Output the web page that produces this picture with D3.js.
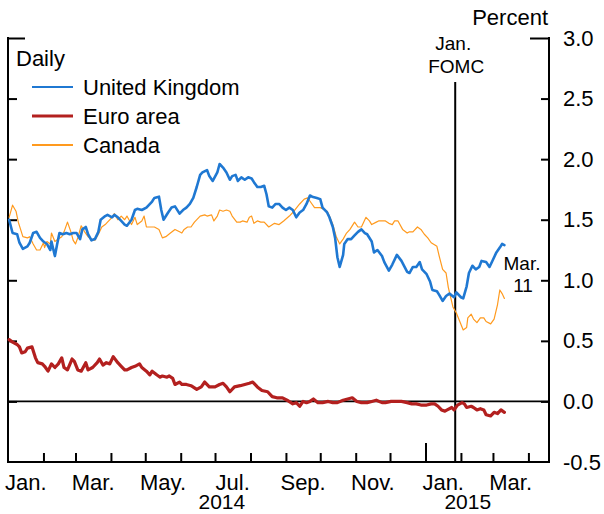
<!DOCTYPE html>
<html><head><meta charset="utf-8">
<script src="https://cdn.jsdelivr.net/npm/d3@7"></script>
<style>
html,body{margin:0;padding:0;background:#fff;}
svg{display:block;font-family:"Liberation Sans",Arial,Helvetica,sans-serif;}
</style></head>
<body>
<svg id="chart" width="604" height="514"></svg>
<script>
// ---- data ----
const ukDates = ["2014-01-02","2014-01-05","2014-01-09","2014-01-11","2014-01-14","2014-01-18","2014-01-20","2014-01-23","2014-01-26","2014-01-29","2014-02-01","2014-02-04","2014-02-07","2014-02-08","2014-02-11","2014-02-13","2014-02-15","2014-02-18","2014-02-21","2014-02-24","2014-02-27","2014-03-02","2014-03-05","2014-03-07","2014-03-10","2014-03-12","2014-03-15","2014-03-18","2014-03-21","2014-03-23","2014-03-27","2014-03-29","2014-04-02","2014-04-04","2014-04-07","2014-04-10","2014-04-13","2014-04-15","2014-04-19","2014-04-22","2014-04-24","2014-04-28","2014-05-02","2014-05-07","2014-05-09","2014-05-13","2014-05-15","2014-05-17","2014-05-21","2014-05-24","2014-05-27","2014-05-31","2014-06-03","2014-06-06","2014-06-09","2014-06-12","2014-06-15","2014-06-18","2014-06-20","2014-06-24","2014-06-26","2014-06-29","2014-07-03","2014-07-05","2014-07-08","2014-07-11","2014-07-14","2014-07-16","2014-07-19","2014-07-21","2014-07-24","2014-07-27","2014-07-30","2014-08-02","2014-08-04","2014-08-07","2014-08-10","2014-08-13","2014-08-15","2014-08-17","2014-08-20","2014-08-23","2014-08-26","2014-08-29","2014-09-01","2014-09-04","2014-09-07","2014-09-10","2014-09-13","2014-09-16","2014-09-19","2014-09-22","2014-09-24","2014-09-28","2014-10-01","2014-10-03","2014-10-07","2014-10-09","2014-10-12","2014-10-14","2014-10-16","2014-10-18","2014-10-21","2014-10-22","2014-10-25","2014-10-28","2014-10-31","2014-11-03","2014-11-06","2014-11-09","2014-11-11","2014-11-15","2014-11-17","2014-11-20","2014-11-24","2014-11-26","2014-11-30","2014-12-03","2014-12-07","2014-12-11","2014-12-16","2014-12-18","2014-12-21","2014-12-24","2014-12-27","2014-12-29","2015-01-02","2015-01-05","2015-01-07","2015-01-11","2015-01-13","2015-01-16","2015-01-19","2015-01-22","2015-01-26","2015-01-28","2015-02-01","2015-02-03","2015-02-06","2015-02-08","2015-02-11","2015-02-14","2015-02-17","2015-02-19","2015-02-23","2015-02-26","2015-03-01","2015-03-04","2015-03-07","2015-03-09","2015-03-11"];
const ukValues = [1.50,1.39,1.38,1.31,1.26,1.28,1.31,1.39,1.40,1.35,1.32,1.30,1.25,1.32,1.20,1.30,1.39,1.38,1.39,1.38,1.39,1.39,1.34,1.42,1.44,1.38,1.33,1.34,1.40,1.50,1.53,1.54,1.52,1.54,1.52,1.49,1.46,1.45,1.50,1.58,1.59,1.58,1.60,1.65,1.68,1.69,1.58,1.50,1.56,1.60,1.61,1.55,1.58,1.60,1.63,1.68,1.77,1.87,1.89,1.91,1.86,1.82,1.89,1.96,1.93,1.89,1.83,1.86,1.87,1.82,1.85,1.83,1.85,1.84,1.81,1.77,1.77,1.78,1.71,1.61,1.60,1.63,1.63,1.60,1.58,1.60,1.58,1.52,1.56,1.58,1.63,1.70,1.69,1.68,1.67,1.60,1.56,1.52,1.44,1.35,1.19,1.11,1.21,1.30,1.34,1.34,1.37,1.40,1.42,1.39,1.38,1.32,1.23,1.25,1.20,1.15,1.08,1.13,1.21,1.16,1.07,1.06,1.11,1.11,1.15,1.09,1.05,0.99,0.92,0.91,0.88,0.83,0.87,0.89,0.86,0.90,0.86,0.85,0.95,1.06,1.12,1.09,1.11,1.16,1.15,1.11,1.17,1.23,1.27,1.30,1.29];

const euDates = ["2014-01-02","2014-01-05","2014-01-09","2014-01-11","2014-01-13","2014-01-16","2014-01-18","2014-01-22","2014-01-25","2014-01-27","2014-01-31","2014-02-02","2014-02-05","2014-02-08","2014-02-11","2014-02-14","2014-02-17","2014-02-19","2014-02-22","2014-02-26","2014-02-28","2014-03-03","2014-03-06","2014-03-10","2014-03-12","2014-03-16","2014-03-20","2014-03-22","2014-03-25","2014-03-28","2014-03-31","2014-04-03","2014-04-07","2014-04-10","2014-04-13","2014-04-15","2014-04-19","2014-04-22","2014-04-26","2014-04-28","2014-05-02","2014-05-05","2014-05-07","2014-05-11","2014-05-14","2014-05-16","2014-05-20","2014-05-22","2014-05-25","2014-05-27","2014-05-31","2014-06-02","2014-06-06","2014-06-10","2014-06-15","2014-06-19","2014-06-22","2014-06-26","2014-07-01","2014-07-05","2014-07-08","2014-07-11","2014-07-14","2014-07-18","2014-07-23","2014-07-27","2014-07-31","2014-08-03","2014-08-07","2014-08-11","2014-08-16","2014-08-20","2014-08-24","2014-08-29","2014-09-02","2014-09-07","2014-09-10","2014-09-13","2014-09-16","2014-09-19","2014-09-22","2014-09-25","2014-09-29","2014-10-03","2014-10-08","2014-10-12","2014-10-16","2014-10-21","2014-10-25","2014-10-29","2014-11-02","2014-11-06","2014-11-11","2014-11-15","2014-11-19","2014-11-24","2014-11-27","2014-12-02","2014-12-07","2014-12-11","2014-12-16","2014-12-20","2014-12-24","2014-12-28","2015-01-02","2015-01-06","2015-01-09","2015-01-12","2015-01-15","2015-01-18","2015-01-20","2015-01-24","2015-01-26","2015-01-29","2015-02-02","2015-02-04","2015-02-06","2015-02-10","2015-02-12","2015-02-15","2015-02-18","2015-02-21","2015-02-23","2015-02-27","2015-03-02","2015-03-05","2015-03-08","2015-03-11"];
const euValues = [0.51,0.49,0.47,0.45,0.40,0.41,0.44,0.45,0.36,0.32,0.31,0.29,0.25,0.31,0.28,0.31,0.36,0.28,0.26,0.35,0.33,0.26,0.25,0.32,0.26,0.28,0.32,0.35,0.30,0.32,0.31,0.37,0.32,0.29,0.26,0.26,0.28,0.29,0.31,0.28,0.25,0.22,0.25,0.22,0.20,0.21,0.20,0.21,0.19,0.14,0.16,0.14,0.14,0.13,0.10,0.12,0.16,0.12,0.12,0.14,0.15,0.12,0.08,0.12,0.13,0.14,0.15,0.16,0.12,0.09,0.08,0.04,0.03,0.03,0.01,-0.02,-0.01,-0.04,0.00,-0.01,0.00,0.02,-0.01,-0.01,0.00,-0.01,-0.01,0.01,0.02,0.03,0.00,-0.01,-0.01,0.00,0.01,-0.01,-0.01,0.00,0.00,0.00,-0.01,-0.02,-0.02,-0.03,-0.03,-0.02,-0.02,-0.04,-0.07,-0.08,-0.07,-0.05,-0.07,-0.03,-0.01,-0.02,-0.05,-0.04,-0.05,-0.07,-0.06,-0.07,-0.11,-0.12,-0.09,-0.10,-0.07,-0.09];

const caDates = ["2014-01-02","2014-01-05","2014-01-08","2014-01-10","2014-01-12","2014-01-14","2014-01-18","2014-01-20","2014-01-23","2014-01-26","2014-01-29","2014-02-01","2014-02-02","2014-02-04","2014-02-07","2014-02-08","2014-02-11","2014-02-14","2014-02-17","2014-02-19","2014-02-22","2014-02-25","2014-02-27","2014-03-01","2014-03-03","2014-03-06","2014-03-09","2014-03-12","2014-03-15","2014-03-18","2014-03-21","2014-03-24","2014-03-27","2014-03-29","2014-04-02","2014-04-04","2014-04-07","2014-04-10","2014-04-13","2014-04-15","2014-04-19","2014-04-22","2014-04-24","2014-04-28","2014-04-30","2014-05-02","2014-05-07","2014-05-09","2014-05-13","2014-05-16","2014-05-19","2014-05-23","2014-05-27","2014-05-31","2014-06-02","2014-06-04","2014-06-07","2014-06-10","2014-06-13","2014-06-18","2014-06-22","2014-06-24","2014-06-28","2014-06-30","2014-07-03","2014-07-05","2014-07-08","2014-07-11","2014-07-14","2014-07-16","2014-07-20","2014-07-23","2014-07-25","2014-07-29","2014-07-31","2014-08-02","2014-08-04","2014-08-07","2014-08-10","2014-08-13","2014-08-17","2014-08-22","2014-08-26","2014-08-30","2014-09-04","2014-09-08","2014-09-13","2014-09-17","2014-09-20","2014-09-23","2014-09-26","2014-10-01","2014-10-03","2014-10-07","2014-10-09","2014-10-12","2014-10-15","2014-10-18","2014-10-21","2014-10-24","2014-10-27","2014-10-31","2014-11-03","2014-11-06","2014-11-10","2014-11-13","2014-11-15","2014-11-19","2014-11-21","2014-11-24","2014-11-27","2014-11-30","2014-12-03","2014-12-05","2014-12-08","2014-12-12","2014-12-16","2014-12-18","2014-12-21","2014-12-25","2014-12-28","2014-12-31","2015-01-03","2015-01-06","2015-01-11","2015-01-13","2015-01-16","2015-01-19","2015-01-21","2015-01-25","2015-01-28","2015-01-31","2015-02-03","2015-02-06","2015-02-07","2015-02-10","2015-02-12","2015-02-15","2015-02-18","2015-02-21","2015-02-23","2015-02-27","2015-03-02","2015-03-05","2015-03-07","2015-03-09","2015-03-11"];
const caValues = [1.52,1.62,1.57,1.48,1.42,1.36,1.35,1.36,1.30,1.25,1.25,1.31,1.27,1.32,1.30,1.39,1.32,1.34,1.36,1.40,1.48,1.40,1.33,1.30,1.35,1.45,1.40,1.36,1.34,1.33,1.38,1.44,1.46,1.48,1.52,1.55,1.50,1.53,1.50,1.53,1.46,1.52,1.46,1.49,1.53,1.44,1.44,1.44,1.42,1.35,1.36,1.39,1.42,1.40,1.39,1.42,1.44,1.44,1.48,1.53,1.54,1.53,1.54,1.49,1.53,1.58,1.57,1.58,1.57,1.53,1.48,1.48,1.49,1.48,1.52,1.53,1.47,1.49,1.48,1.48,1.44,1.47,1.46,1.49,1.53,1.57,1.63,1.67,1.68,1.64,1.60,1.60,1.59,1.57,1.53,1.46,1.36,1.30,1.34,1.39,1.42,1.48,1.44,1.44,1.52,1.49,1.46,1.48,1.49,1.49,1.49,1.47,1.46,1.49,1.49,1.42,1.39,1.40,1.40,1.44,1.42,1.38,1.35,1.31,1.28,1.20,1.09,1.06,0.94,0.78,0.73,0.66,0.59,0.61,0.69,0.72,0.68,0.65,0.69,0.69,0.66,0.64,0.68,0.80,0.92,0.89,0.85];

const seriesNames = ["United Kingdom","Euro area","Canada"];
const seriesColors = ["#1f78d2","#b3201f","#ff9a1e"];
const seriesWidths = [2.6,3.2,1.2];
const yTicks = [-0.5,0.0,0.5,1.0,1.5,2.0,2.5,3.0];
const monthLabels = ["Jan.","Mar.","May.","Jul.","Sep.","Nov.","Jan.","Mar."];
const monthLabelDates = ["2014-01-01","2014-03-01","2014-05-01","2014-07-01","2014-09-01","2014-11-01","2015-01-01","2015-03-01"];
const yearLabels = ["2014","2015"];
const yearLabelDates = ["2014-07-07","2015-02-07"];
const fomcDate = "2015-01-27";
const endDateLabel = ["Mar.","11"];

// ---- drawing ----
const parse = d3.timeParse("%Y-%m-%d");
const svg = d3.select("#chart");
const L = 8, R = 549, T = 38, B = 462;
const x = d3.scaleTime().domain([parse("2014-01-01"), parse("2015-04-19")]).range([L, R]);
const y = d3.scaleLinear().domain([-0.5, 3.0]).range([B, T]);

const months = d3.timeMonth.range(parse("2014-02-01"), parse("2015-04-19"));

// x-axis (ticks pointing up)
const xAxis = d3.axisBottom(x).tickValues(months).tickSizeInner(-9).tickSizeOuter(0).tickFormat("");
const gx = svg.append("g").attr("transform", `translate(0,${B})`).call(xAxis);
gx.select(".domain").remove();
gx.selectAll(".tick line").attr("stroke", "#000").attr("stroke-width", 2)
  .attr("y2", d => (d.getFullYear() === 2015 && d.getMonth() === 0) ? -19 : -9);

// left axis (ticks inward, no labels)
const gl = svg.append("g").attr("transform", `translate(${L},0)`)
  .call(d3.axisLeft(y).tickValues(yTicks.filter(v => v > -0.5)).tickSizeInner(-9).tickSizeOuter(0).tickFormat(""));
gl.select(".domain").remove();
gl.selectAll(".tick line").attr("stroke", "#000").attr("stroke-width", 2)
  .attr("x2", d => d === 3.0 ? 17 : 9);

// right axis (ticks inward, labels outside)
const gr = svg.append("g").attr("transform", `translate(${R},0)`)
  .call(d3.axisRight(y).tickValues(yTicks).tickSizeInner(-8).tickSizeOuter(0).tickPadding(14).tickFormat(d => d.toFixed(1)));
gr.select(".domain").remove();
gr.selectAll(".tick line").attr("stroke", "#000").attr("stroke-width", 2)
  .attr("x2", d => d === 3.0 ? -19 : (d === -0.5 ? 0 : -8));
gr.selectAll(".tick text").attr("font-size", 22).attr("fill", "#000")
  .attr("font-family", '"Liberation Sans",Arial,sans-serif');

// frame lines
svg.append("line").attr("x1", L).attr("x2", L).attr("y1", T - 1).attr("y2", B + 1).attr("stroke", "#000").attr("stroke-width", 2);
svg.append("line").attr("x1", R).attr("x2", R).attr("y1", T - 1).attr("y2", B + 1).attr("stroke", "#000").attr("stroke-width", 2);
svg.append("line").attr("x1", L).attr("x2", R).attr("y1", y(-0.5)).attr("y2", y(-0.5)).attr("stroke", "#000").attr("stroke-width", 2);
// zero line
svg.append("line").attr("x1", L).attr("x2", R).attr("y1", y(0)).attr("y2", y(0)).attr("stroke", "#000").attr("stroke-width", 1.8);

// FOMC line
const fx = x(parse(fomcDate));
svg.append("line").attr("x1", fx).attr("x2", fx).attr("y1", 82).attr("y2", B).attr("stroke", "#000").attr("stroke-width", 2);
svg.append("text").attr("x", fx - 2).attr("y", 50).attr("text-anchor", "middle").attr("font-size", 19).text("Jan.");
svg.append("text").attr("x", fx + 1).attr("y", 73).attr("text-anchor", "middle").attr("font-size", 19).text("FOMC");

// month / year labels
const mid = d => { const s = parse(d); return new Date((+s + +d3.timeMonth.offset(s, 1)) / 2); };
svg.append("g").selectAll("text").data(monthLabels).join("text")
  .attr("x", (d, i) => x(mid(monthLabelDates[i]))).attr("y", 490)
  .attr("text-anchor", "middle").attr("font-size", 22).text(d => d);
svg.append("g").selectAll("text").data(yearLabels).join("text")
  .attr("x", (d, i) => x(parse(yearLabelDates[i]))).attr("y", 509)
  .attr("text-anchor", "middle").attr("font-size", 21).text(d => d);

// Percent
svg.append("text").attr("x", 548).attr("y", 25).attr("text-anchor", "end").attr("font-size", 22).text("Percent");

// series
const series = [
  { dates: ukDates, values: ukValues },
  { dates: euDates, values: euValues },
  { dates: caDates, values: caValues }
];
const line = d3.line().x(d => x(d[0])).y(d => y(d[1]));
[2, 1, 0].forEach(i => {
  const s = series[i];
  const pts = s.dates.map((d, j) => [parse(d), s.values[j]]);
  svg.append("path").datum(pts).attr("d", line).attr("fill", "none")
    .attr("stroke", seriesColors[i]).attr("stroke-width", seriesWidths[i])
    .attr("stroke-linejoin", "round").attr("stroke-linecap", "round");
});

// end label
svg.append("text").attr("x", 522).attr("y", 270).attr("text-anchor", "middle").attr("font-size", 19).text(endDateLabel[0]);
svg.append("text").attr("x", 523).attr("y", 292).attr("text-anchor", "middle").attr("font-size", 19).text(endDateLabel[1]);

// legend
svg.append("text").attr("x", 16).attr("y", 66).attr("font-size", 22).text("Daily");
const lg = svg.append("g").selectAll("g").data(seriesNames).join("g")
  .attr("transform", (d, i) => `translate(0,${87 + i * 29})`);
lg.append("line").attr("x1", 32).attr("x2", 73).attr("y1", 0).attr("y2", 0)
  .attr("stroke", (d, i) => seriesColors[i]).attr("stroke-width", (d, i) => i === 1 ? 3 : 2);
lg.append("text").attr("x", 83).attr("y", 8).attr("font-size", 22).text(d => d);
</script>
</body></html>
